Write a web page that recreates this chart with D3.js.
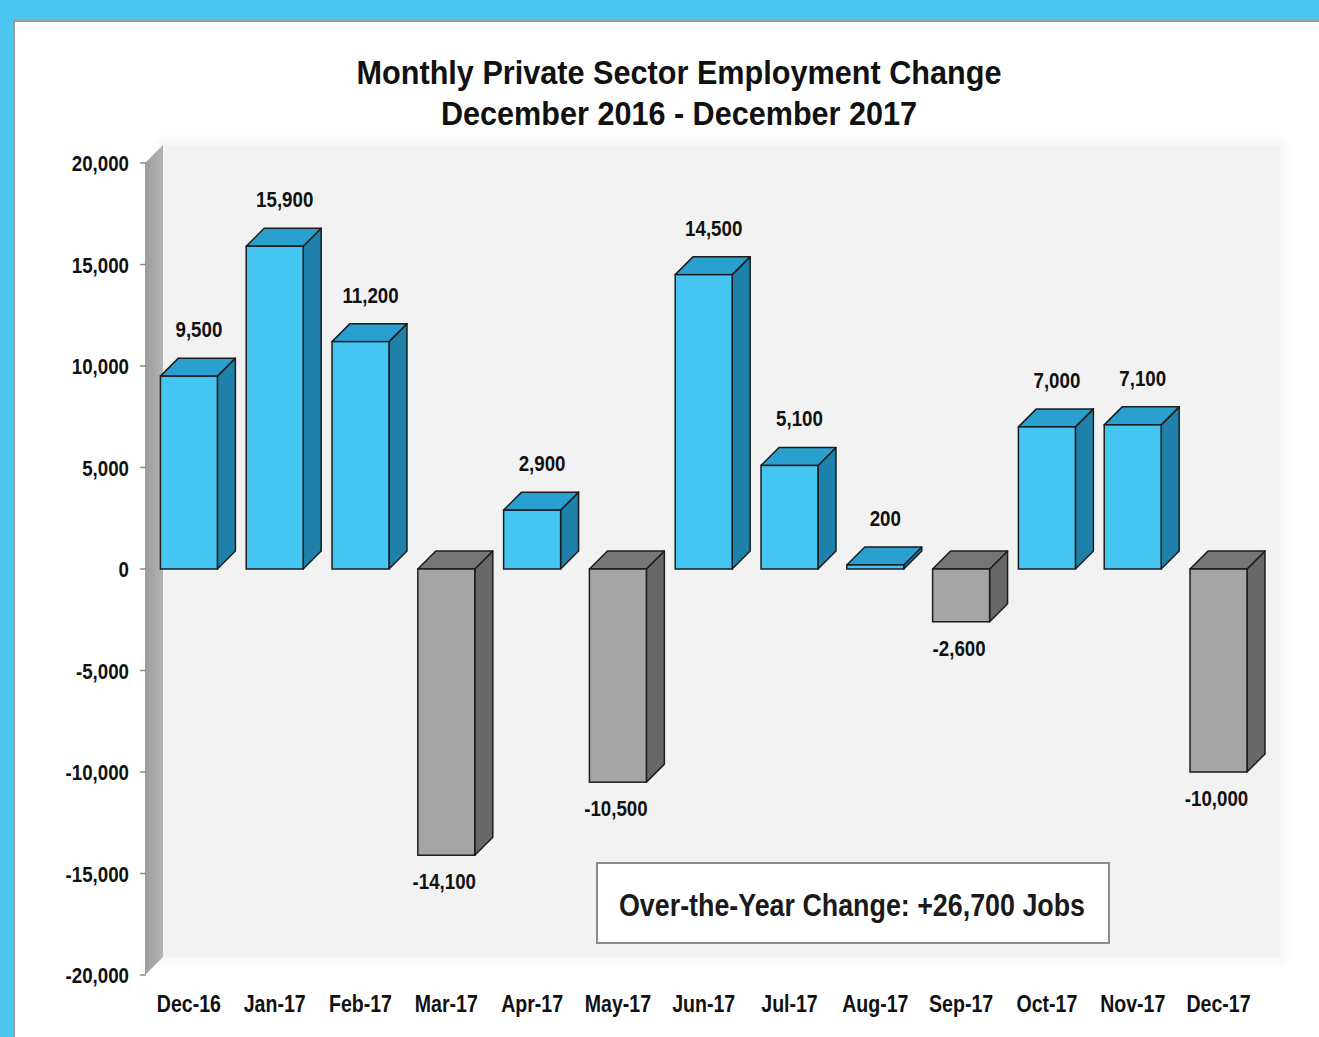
<!DOCTYPE html>
<html>
<head>
<meta charset="utf-8">
<script src="https://cdn.jsdelivr.net/npm/d3@7"></script>
<style>
  body { margin: 0; background: #fff; }
  svg { display: block; }
</style>
</head>
<body>
<div id="chart"></div>
<script>
const months = ["Dec-16", "Jan-17", "Feb-17", "Mar-17", "Apr-17", "May-17", "Jun-17",
  "Jul-17", "Aug-17", "Sep-17", "Oct-17", "Nov-17", "Dec-17"];
const changes = [9500, 15900, 11200, -14100, 2900, -10500, 14500, 5100, 200, -2600, 7000, 7100, -10000];
const yTicks = [20000, 15000, 10000, 5000, 0, -5000, -10000, -15000, -20000];
const titleLines = ["Monthly Private Sector Employment Change", "December 2016 - December 2017"];
const note = "Over-the-Year Change: +26,700 Jobs";

const width = 1319, height = 1037;
const depth = 18;
const narrow = 0.85; // squeeze to mimic Arial Narrow
const font = "'Liberation Sans', Arial, sans-serif";
const fmt = v => d3.format(",")(v).replace("\u2212", "-");

const svg = d3.select("#chart")
  .append("svg")
  .attr("width", width)
  .attr("height", height);

// blue frame
svg.append("rect").attr("x", 0).attr("y", 0).attr("width", width).attr("height", height).attr("fill", "#4bc6ef");
svg.append("rect").attr("x", 13).attr("y", 20).attr("width", width).attr("height", height).attr("fill", "#9a9a9a");
svg.append("rect").attr("x", 15).attr("y", 22).attr("width", width).attr("height", height).attr("fill", "#ffffff");

const y = d3.scaleLinear().domain([-20000, 20000]).range([975, 163]);
const x = d3.scaleBand().domain(months).range([146, 146 + 13 * 85.8])
  .paddingInner(0.336).paddingOuter(0.168);

const defs = svg.append("defs");
const blur = defs.append("filter").attr("id", "soft").attr("x", "-5%").attr("y", "-5%").attr("width", "110%").attr("height", "110%");
blur.append("feGaussianBlur").attr("stdDeviation", 4);
const wallGrad = defs.append("linearGradient").attr("id", "wallGrad").attr("x1", 0).attr("x2", 1).attr("y1", 0).attr("y2", 0);
wallGrad.append("stop").attr("offset", 0).attr("stop-color", "#9c9c9c");
wallGrad.append("stop").attr("offset", 1).attr("stop-color", "#b4b4b4");

// back wall
const x0 = 145, x1 = 1280;
svg.append("rect")
  .attr("x", x0 + depth - 6).attr("y", y(20000) - depth - 6)
  .attr("width", x1 - x0 - depth + 12).attr("height", y(-20000) - y(20000) + 12)
  .attr("fill", "#f6f6f6").attr("filter", "url(#soft)");
svg.append("rect")
  .attr("x", x0 + depth).attr("y", y(20000) - depth)
  .attr("width", x1 - x0 - depth).attr("height", y(-20000) - y(20000))
  .attr("fill", "#f2f2f2");

// side wall
svg.append("path")
  .attr("d", `M${x0},${y(20000)} L${x0 + depth},${y(20000) - depth} L${x0 + depth},${y(-20000) - depth} L${x0},${y(-20000)} Z`)
  .attr("fill", "url(#wallGrad)");

function label(sel, fx, fy, size) {
  return sel
    .attr("transform", (d, i) => `translate(${fx(d, i)},${fy(d, i)}) scale(${narrow},1)`)
    .style("font-family", font)
    .style("font-weight", "bold")
    .style("font-size", size + "px")
    .attr("fill", "#111");
}

// y axis ticks and labels
const yAxis = svg.append("g");
yAxis.selectAll("line")
  .data(yTicks)
  .join("line")
  .attr("x1", x0 - 5).attr("x2", x0 + 1)
  .attr("y1", d => y(d)).attr("y2", d => y(d))
  .attr("stroke", "#8a8a8a").attr("stroke-width", 1.5);
label(yAxis.selectAll("text").data(yTicks).join("text"), () => 129, d => y(d) + 8, 22)
  .attr("text-anchor", "end")
  .text(d => fmt(d));

// bars
const bars = svg.append("g")
  .selectAll("g")
  .data(months.map((m, i) => ({ month: m, value: changes[i] })))
  .join("g");

const stroke = "#1c1c1c";
const col = v => v >= 0
  ? { front: "#45c6f2", top: "#2aa0d0", side: "#1f80aa" }
  : { front: "#a5a5a5", top: "#767676", side: "#686868" };

bars.each(function(d) {
  const g = d3.select(this);
  const bx = x(d.month), bw = x.bandwidth();
  const yt = y(Math.max(0, d.value)), yb = y(Math.min(0, d.value));
  const c = col(d.value);
  g.append("path")
    .attr("d", `M${bx + bw},${yt} L${bx + bw + depth},${yt - depth} L${bx + bw + depth},${yb - depth} L${bx + bw},${yb} Z`)
    .attr("fill", c.side).attr("stroke", stroke).attr("stroke-width", 1.5).attr("stroke-linejoin", "round");
  g.append("path")
    .attr("d", `M${bx},${yt} L${bx + depth},${yt - depth} L${bx + bw + depth},${yt - depth} L${bx + bw},${yt} Z`)
    .attr("fill", c.top).attr("stroke", stroke).attr("stroke-width", 1.5).attr("stroke-linejoin", "round");
  g.append("rect")
    .attr("x", bx).attr("y", yt).attr("width", bw).attr("height", yb - yt)
    .attr("fill", c.front).attr("stroke", stroke).attr("stroke-width", 1.5);
});

// value labels
label(bars.append("text"),
  d => x(d.month) + x.bandwidth() / 2 + (d.value >= 0 ? 10 : -2),
  d => d.value >= 0 ? y(d.value) - depth - 21 : y(d.value) + 34, 22)
  .attr("text-anchor", "middle")
  .text(d => fmt(d.value));

// category labels
label(svg.append("g").selectAll("text").data(months).join("text"),
  d => x(d) + x.bandwidth() / 2, () => 1012, 23)
  .attr("text-anchor", "middle")
  .text(d => d);

// title
svg.append("g")
  .selectAll("text")
  .data(titleLines)
  .join("text")
  .attr("x", 679)
  .attr("y", (d, i) => 84 + i * 41)
  .attr("text-anchor", "middle")
  .attr("textLength", (d, i) => i === 0 ? 645 : 476)
  .attr("lengthAdjust", "spacingAndGlyphs")
  .style("font-family", font)
  .style("font-weight", "bold")
  .style("font-size", "34px")
  .attr("fill", "#111")
  .text(d => d);

// annotation box
svg.append("rect")
  .attr("x", 597).attr("y", 863).attr("width", 512).attr("height", 80)
  .attr("fill", "#fff").attr("stroke", "#8c8c8c").attr("stroke-width", 2);
svg.append("text")
  .attr("x", 852).attr("y", 916)
  .attr("text-anchor", "middle")
  .attr("textLength", 466)
  .attr("lengthAdjust", "spacingAndGlyphs")
  .style("font-family", font)
  .style("font-weight", "bold")
  .style("font-size", "32px")
  .attr("fill", "#1a1a1a")
  .text(note);
</script>
</body>
</html>
